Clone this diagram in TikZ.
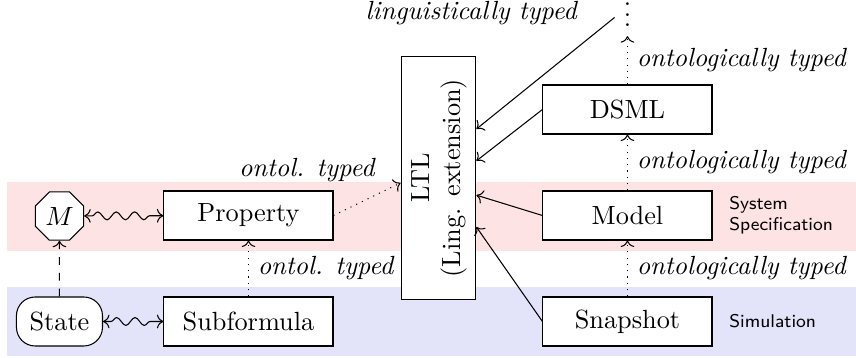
\documentclass[tikz,border=0pt]{standalone}
\usepackage{graphicx}
\usetikzlibrary{arrows.meta,positioning,calc,shapes.geometric,decorations.pathmorphing}
\definecolor{bandred}{HTML}{FDE3E3}
\definecolor{bandblue}{HTML}{E3E3FA}
\tikzset{
  box/.style={draw,fill=white,minimum width=2.26cm,minimum height=0.655cm},
  statebox/.style={draw,fill=white,rounded corners=2.5mm,minimum width=1.15cm,minimum height=0.655cm},
  octa/.style={draw,fill=white,regular polygon,regular polygon sides=8,minimum size=0.7cm,inner sep=0pt},
  typed/.style={font=\itshape},
  layer/.style={font=\sffamily\scriptsize,align=left},
  arrsolid/.style={->},
  arrdot/.style={->,dotted},
  arrdash/.style={->,dashed},
  arrwave/.style={<->,decorate,decoration={snake,amplitude=1.5pt,segment length=7pt,pre length=3pt,post length=3pt}}
}

\begin{document}
\begin{tikzpicture}[x=1cm,y=1cm]
\path[use as bounding box] (0,0) rectangle (11.444,4.773);
\fill[bandred] (0.094,1.421) rectangle (11.444,2.340);
\fill[bandblue] (0.094,0.017) rectangle (11.444,0.940);
\node[octa] (m) at (0.795,1.885) {$M$};
\node[box] (property) at (3.322,1.892) {Property};
\node[statebox] (state) at (0.795,0.475) {State};
\node[box] (subformula) at (3.322,0.475) {Subformula};
\node[box] (model) at (8.389,1.892) {Model};
\node[box] (snapshot) at (8.389,0.475) {Snapshot};
\node[box] (dsml) at (8.389,3.309) {DSML};
\node[anchor=south] (dots) at (8.389,4.29) {$\vdots$};
\node[draw,fill=white,minimum width=1cm,minimum height=3.26cm,inner sep=0pt] (ltl) at (5.862,2.393) {\rotatebox{90}{\begin{tabular}{@{}c@{}}LTL\\(Ling. extension)\end{tabular}}};
\node[layer,right=1mm of model] (sysspec) {System\\Specification};
\node[layer,right=1mm of snapshot] (simlabel) {Simulation};
\node[typed] (lingtyped) at (6.30,4.60) {linguistically typed};
\coordinate (in1) at ($(ltl.north east)!0.30!(ltl.south east)$);
\coordinate (in2) at ($(ltl.north east)!0.43!(ltl.south east)$);
\coordinate (in3) at ($(ltl.north east)!0.57!(ltl.south east)$);
\coordinate (in4) at ($(ltl.north east)!0.70!(ltl.south east)$);
\coordinate (inw) at ($(ltl.north west)!0.52!(ltl.south west)$);
\draw[arrwave] (m) -- (property);
\draw[arrwave] (state) -- (subformula);
\draw[arrdash] (state) -- (m);
\draw[arrdot] (subformula) -- (property) node[typed,midway,right] (ontoltwo) {ontol. typed};
\draw[arrdot] (property.east) -- (inw) node[typed,pos=0.75,above left] (ontolone) {ontol. typed};
\draw[arrdot] (snapshot) -- (model) node[typed,midway,right] (ontothree) {ontologically typed};
\draw[arrdot] (model) -- (dsml) node[typed,midway,right] (ontotwo) {ontologically typed};
\draw[arrdot] (dsml) -- (dots) node[typed,midway,right] (ontoone) {ontologically typed};
\draw[arrsolid] (dots) -- (in1);
\draw[arrsolid] (dsml.west) -- (in2);
\draw[arrsolid] (model.west) -- (in3);
\draw[arrsolid] (snapshot.west) -- (in4);
\end{tikzpicture}
\end{document}
